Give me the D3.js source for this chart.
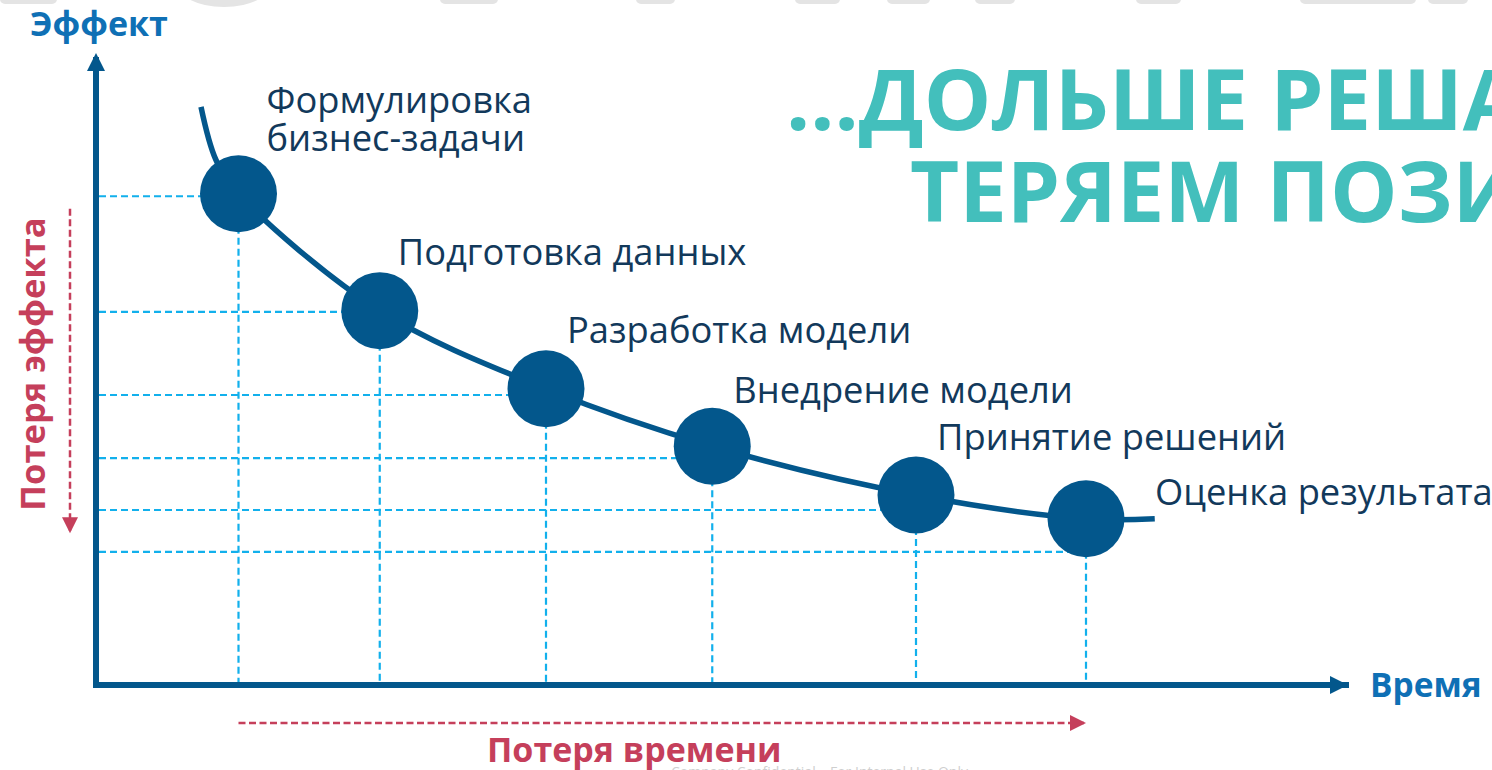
<!DOCTYPE html>
<html><head><meta charset="utf-8">
<script src="https://cdn.jsdelivr.net/npm/d3@7"></script>
<style>
html,body{margin:0;padding:0;background:#fff;overflow:hidden}
svg{display:block}
text{font-family:"Open Sans","Noto Sans",sans-serif}
</style></head>
<body>
<script>
// ---- data ----
const stageLabels = [
  ["Формулировка", "бизнес-задачи"],
  ["Подготовка данных"],
  ["Разработка модели"],
  ["Внедрение модели"],
  ["Принятие решений"],
  ["Оценка результата"]
];
const stageTime   = [11.4, 22.7, 36.0, 49.3, 65.6, 79.2];
const stageEffect = [78.6, 59.9, 47.4, 38.2, 30.4, 26.6];
const guideEffect = [78.2, 59.7, 46.4, 36.3, 28.0, 21.3];
const curveHead = [[8.4, 92.5], [9.6, 84.0]];
const curveTail = [[84.7, 26.6]];
const effectLossRange = [76.2, 24.3];
const axisTitles = { y: "Эффект", x: "Время" };
const lossTitles = { effect: "Потеря эффекта", time: "Потеря времени" };
const titleLines = ["...ДОЛЬШЕ РЕШАЕМ", "ТЕРЯЕМ ПОЗИЦИИ"];
const footer = "Company Confidential – For Internal Use Only";

// ---- layout ----
const W = 1492, H = 770;
const labelOffsets = [[28,-43],[18,-46],[21,-46],[21,-43],[21,-45],[69,-14]];
const NAVY = "#03578c", GUIDE = "#12b0ec", RED = "#c53f5b", BLUE = "#0f70b5", TEAL = "#43bfbc", LABEL = "#12395b";

const svg = d3.select("body").append("svg").attr("width", W).attr("height", H);
svg.append("rect").attr("width", W).attr("height", H).attr("fill", "#fff");

const x = d3.scaleLinear().domain([0, 100]).range([96, 1346]);
const y = d3.scaleLinear().domain([0, 100]).range([685, 60]);

// faint watermark remnants at the top
const wm = svg.append("g").attr("fill", "#e4e4e4");
[[0,57],[440,498],[636,675],[795,840],[887,930],[975,1015],[1136,1181],[1300,1416],[1428,1468]].forEach(([a,b]) =>
  wm.append("rect").attr("x", a).attr("y", -20).attr("width", b - a).attr("height", 24).attr("rx", 5));
wm.append("ellipse").attr("cx", 224).attr("cy", -20).attr("rx", 50).attr("ry", 27);

// markers
const defs = svg.append("defs");
function marker(id, color, path) {
  defs.append("marker").attr("id", id).attr("markerUnits", "userSpaceOnUse")
    .attr("orient", "auto").attr("overflow", "visible").attr("refX", 0).attr("refY", 0)
    .attr("markerWidth", 1).attr("markerHeight", 1)
    .append("path").attr("d", path).attr("fill", color);
}
marker("arrV", NAVY, "M-11,-9L7,0L-11,9Z");
marker("arrH", NAVY, "M-16,-9L2,0L-16,9Z");
marker("arrR", RED, "M-14,-8L2,0L-14,8Z");

// guide lines
const guides = svg.append("g").attr("stroke", GUIDE).attr("stroke-width", 2.2).attr("stroke-dasharray", "7,4").attr("fill", "none");
stageTime.forEach((t, i) => {
  guides.append("line").attr("x1", x(0) + 3).attr("x2", x(t)).attr("y1", y(guideEffect[i])).attr("y2", y(guideEffect[i]));
  guides.append("line").attr("x1", x(t)).attr("x2", x(t)).attr("y1", y(stageEffect[i])).attr("y2", y(0));
});

// axes
const gx = svg.append("g").attr("transform", `translate(0,${y(0)})`)
  .call(d3.axisBottom(x).ticks(0).tickSizeOuter(0));
gx.select(".domain").attr("stroke", NAVY).attr("stroke-width", 6).attr("marker-end", "url(#arrH)").attr("stroke-linecap", "square")
  .attr("d", `M${x(0)},0H${x(100)}`);
const gy = svg.append("g").attr("transform", `translate(${x(0)},0)`)
  .call(d3.axisLeft(y).ticks(0).tickSizeOuter(0));
gy.select(".domain").attr("stroke", NAVY).attr("stroke-width", 6).attr("marker-end", "url(#arrV)").attr("stroke-linecap", "square")
  .attr("d", `M0,${y(0)}V${y(100)}`);

// curve
const pts = curveHead.concat(stageTime.map((t, i) => [t, stageEffect[i]]), curveTail);
svg.append("path").datum(pts)
  .attr("d", d3.line().x(d => x(d[0])).y(d => y(d[1])).curve(d3.curveCatmullRom.alpha(0.5)))
  .attr("fill", "none").attr("stroke", NAVY).attr("stroke-width", 5.5);

// circles
svg.append("g").selectAll("circle").data(stageTime).join("circle")
  .attr("cx", d => x(d)).attr("cy", (d, i) => y(stageEffect[i])).attr("r", 38.5).attr("fill", NAVY);

// stage labels
stageLabels.forEach((lines, i) => {
  const [dx, dy] = labelOffsets[i];
  const bx = x(stageTime[i]) + dx, by = y(stageEffect[i]) + dy;
  const t = svg.append("text").attr("fill", LABEL).attr("font-size", 36.3);
  lines.forEach((s, j) => t.append("tspan").attr("x", bx).attr("y", by - (lines.length - 1 - j) * 38).text(s));
});

// axis titles
svg.append("text").attr("x", 30).attr("y", 36).attr("fill", BLUE).attr("font-weight", 700).attr("font-size", 34).text(axisTitles.y);
svg.append("text").attr("x", 1370).attr("y", 697).attr("fill", BLUE).attr("font-weight", 700).attr("font-size", 33.5).text(axisTitles.x);

// loss arrows
svg.append("line").attr("x1", x(stageTime[0])).attr("x2", x(stageTime[stageTime.length - 1]) - 2)
  .attr("y1", 723).attr("y2", 723).attr("stroke", RED).attr("stroke-width", 2.5).attr("stroke-dasharray", "7,3.5")
  .attr("marker-end", "url(#arrR)");
svg.append("line").attr("x1", 70).attr("x2", 70)
  .attr("y1", y(effectLossRange[0])).attr("y2", y(effectLossRange[1]) - 2)
  .attr("stroke", RED).attr("stroke-width", 2.5).attr("stroke-dasharray", "7,3.5")
  .attr("marker-end", "url(#arrR)");
svg.append("text").attr("x", 487).attr("y", 762).attr("fill", RED).attr("font-weight", 700).attr("font-size", 34).text(lossTitles.time);
svg.append("text").attr("transform", "translate(45,364) rotate(-90)").attr("text-anchor", "middle")
  .attr("fill", RED).attr("font-weight", 700).attr("font-size", 34.5).text(lossTitles.effect);

// title
titleLines.forEach((s, i) => {
  svg.append("text").attr("x", i === 0 ? 786 : 910).attr("y", 130 + i * 92)
    .attr("fill", TEAL).attr("font-weight", 700).attr("font-size", 85).text(s);
});

// footer
svg.append("text").attr("x", 671).attr("y", 777).attr("fill", "#cfcfcf").attr("font-size", 14).text(footer);
</script>
</body></html>
